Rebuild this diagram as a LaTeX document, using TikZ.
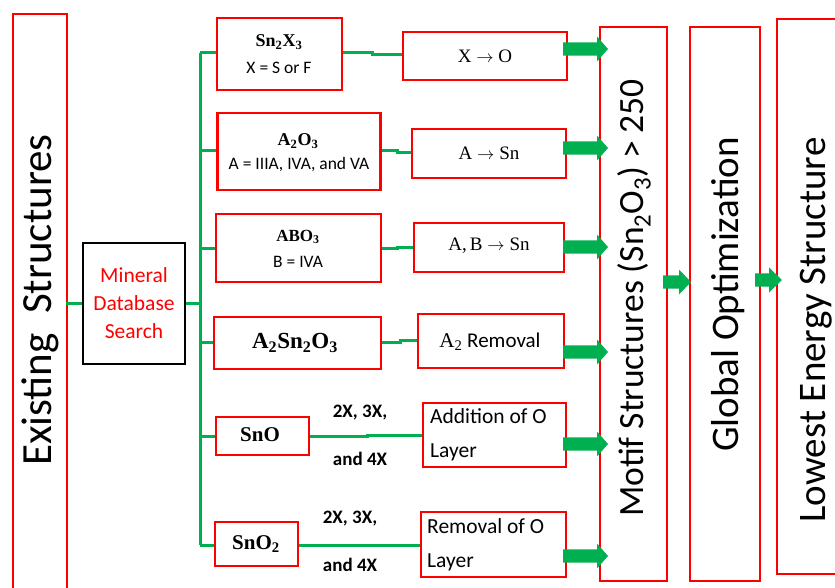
\documentclass[tikz,border=0pt]{standalone}
\usepackage{fontspec}
\setmainfont{Carlito}
\newfontfamily\serifx{Liberation Serif}
\definecolor{myred}{RGB}{255,0,0}
\definecolor{mygreen}{RGB}{0,176,80}
\newcommand\blockarrow[4]{% start x, head base x, tip x, y
  \fill[mygreen] (#1,#4+6.7) -- (#2,#4+6.7) -- (#2,#4+12.5) -- (#3,#4) -- (#2,#4-12.5) -- (#2,#4-6.7) -- (#1,#4-6.7) -- cycle;}
\newcommand\lsub[1]{\textsubscript{#1}}
\newcommand\rarr{\ensuremath{\;\rightarrow\;}}
\begin{document}
\begin{tikzpicture}[x=1pt,y=1pt,
  redbox/.style={draw=myred,line width=2.8pt,fill=white,inner sep=0pt},
  thinbox/.style={draw=myred,line width=1.6pt,fill=white,inner sep=0pt},
  blackbox/.style={draw=black,line width=2.4pt,fill=white,inner sep=0pt},
  link/.style={draw=mygreen,line width=3pt},
  lbl/.style={inner sep=0pt,align=center},
  col/.style={inner sep=0pt,rotate=90,anchor=base,font=\fontsize{#1}{#1}\selectfont},
  sm/.style={font=\fontsize{17.5}{20}\selectfont},
  mul/.style={lbl,font=\bfseries\fontsize{19}{22}\selectfont},
  frm/.style={lbl,font=\serifx\bfseries\fontsize{#1}{#1}\selectfont},
  srf/.style={lbl,font=\serifx\fontsize{#1}{#1}\selectfont},
]
\clip (0,0) rectangle (835,-588);
\fill[white] (0,0) rectangle (835,-588);
% columns
\node[thinbox,minimum width=54pt,minimum height=590pt,anchor=north west] (exbox) at (12,-13) {};
\node[col=43] (ex) at (51,-300) {Existing\ \ Structures};
\coordinate (exr) at (66,-303);
\node[thinbox,minimum width=67pt,minimum height=554pt,anchor=north west] (motifbox) at (599,-26) {};
\node[col=35.5] (motif) at (643,-298) {Motif Structures (Sn\lsub{2}O\lsub{3}) > 250};
\node[thinbox,minimum width=70pt,minimum height=554pt,anchor=north west] (globbox) at (689,-26) {};
\node[col=39] (glob) at (738,-294.5) {Global Optimization};
\node[thinbox,minimum width=80pt,minimum height=555pt,anchor=north west] (lowbox) at (776,-18) {};
\node[col=39] (low) at (825,-330) {Lowest Energy Structure};
% mineral
\node[blackbox,minimum width=102pt,minimum height=121pt] (min) at (134,-303.5) {};
\node[lbl,text=myred,font=\fontsize{21.5}{28}\selectfont] (mint) at (134,-303) {Mineral\\Database\\Search};
% bus
\coordinate (bt) at (200,-53);
\coordinate (bb) at (200,-545);
\draw[link] (exr) -- (min.west |- exr);
\draw[link] (min.east |- exr) -- (200,-303);
\draw[link] (bt) -- (bb);
% left boxes
\node[redbox,minimum width=125pt,minimum height=72pt] (s1) at (279.5,-54) {};
\node[frm=18] (s1a) at (279,-42) {Sn\lsub{2}X\lsub{3}};
\node[lbl,sm] (s1b) at (279,-68) {X = S or F};
\node[redbox,minimum width=163pt,minimum height=77pt] (s2) at (299,-151.5) {};
\node[frm=18] (s2a) at (298,-141) {A\lsub{2}O\lsub{3}};
\node[lbl,sm] (s2b) at (299,-165) {A = IIIA, IVA, and VA};
\node[redbox,minimum width=165pt,minimum height=68pt] (s3) at (298.5,-248) {};
\node[frm=17] (s3a) at (298,-237) {ABO\lsub{3}};
\node[lbl,sm] (s3b) at (298,-262) {B = IVA};
\node[redbox,minimum width=167pt,minimum height=52pt] (s4) at (297.5,-343) {};
\node[frm=23] (s4a) at (295,-343) {A\lsub{2}Sn\lsub{2}O\lsub{3}};
\node[redbox,minimum width=93pt,minimum height=38pt] (s5) at (262.5,-436) {};
\node[frm=21] (s5a) at (260,-435) {SnO};
\node[redbox,minimum width=83pt,minimum height=44pt] (s6) at (256.5,-544) {};
\node[frm=21] (s6a) at (256,-544) {SnO\lsub{2}};
\foreach \n/\y in {s1/-53,s2/-151,s3/-248,s4/-342,s5/-436,s6/-545}{
  \draw[link] (200,\y) -- (\n.west |- 0,\y);
}
% right boxes
\node[redbox,minimum width=164pt,minimum height=48pt] (t1) at (485,-56) {};
\node[srf=19] (t1a) at (485,-56) {X\rarr O};
\node[redbox,minimum width=154pt,minimum height=49pt] (t2) at (489,-153.5) {};
\node[srf=19] (t2a) at (489,-153) {A\rarr Sn};
\node[redbox,minimum width=150pt,minimum height=49pt] (t3) at (489,-247.5) {};
\node[srf=19] (t3a) at (489,-246) {A,\,B\rarr Sn};
\node[redbox,minimum width=146pt,minimum height=54pt] (t4) at (491,-341) {};
\node[lbl,font=\fontsize{21}{22}\selectfont] (t4a) at (490,-342) {{\serifx A\lsub{2}} Removal};
\node[redbox,minimum width=143pt,minimum height=64pt] (t5) at (494.5,-435) {};
\node[lbl,anchor=west,align=left,font=\fontsize{21.5}{34}\selectfont] (t5a) at (430,-435) {Addition of O\\Layer};
\node[redbox,minimum width=145pt,minimum height=65pt] (t6) at (493.5,-544.5) {};
\node[lbl,anchor=west,align=left,font=\fontsize{21.5}{34}\selectfont] (t6a) at (427,-544.5) {Removal of O\\Layer};
% connectors with small jogs
\draw[link] (s1.east |- 0,-53) -- (372,-53) -- (372,-55) -- (t1.west |- 0,-55);
\draw[link] (s2.east |- 0,-151) -- (397,-151) -- (397,-153) -- (t2.west |- 0,-153);
\draw[link] (s3.east |- 0,-248) -- (397,-248) -- (397,-247) -- (t3.west |- 0,-247);
\draw[link] (s4.east |- 0,-342) -- (400,-342) -- (400,-340) -- (t4.west |- 0,-340);
\draw[link] (s5.east |- 0,-436) -- (367,-436) -- (367,-435) -- (t5.west |- 0,-435);
\draw[link] (s6.east |- 0,-545) -- (t6.west |- 0,-545);
% multiplier labels
\node[mul] (m1) at (360,-413) {2X, 3X,};
\node[mul] (m2) at (360,-459) {and 4X};
\node[mul] (m3) at (350,-519) {2X, 3X,};
\node[mul] (m4) at (350,-565) {and 4X};
% block arrows
\foreach \y in {-49,-148,-247,-352,-444,-556}{
  \blockarrow{563}{597}{608}{\y}
}
\blockarrow{663}{679}{691}{-282}
\blockarrow{755}{769}{782}{-280}
\end{tikzpicture}
\end{document}
